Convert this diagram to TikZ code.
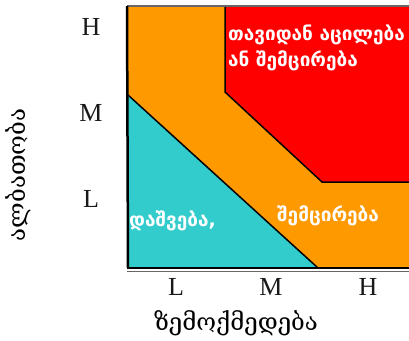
\documentclass[tikz,border=0pt]{standalone}
\usepackage{fontspec}
\setmainfont{Liberation Serif}
\newfontfamily\geo{DejaVu Sans}
\newfontfamily\geoserif{DejaVu Serif}
\definecolor{zoneorange}{HTML}{FF9900}
\definecolor{zonecyan}{HTML}{33CCCC}
\definecolor{zonered}{HTML}{FF0000}
\tikzset{
  ticklabel/.style={font=\fontsize{26}{26}\selectfont, text=black!90, inner sep=0pt},
  zonetext/.style={font=\geo\bfseries\fontsize{19}{26}\selectfont, text=white, inner sep=0pt, anchor=west, align=left},
  axislabel/.style={font=\geoserif\fontsize{24}{24}\selectfont, inner sep=0pt},
  edge/.style={draw=black, line width=1.5pt, line join=miter}
}
\begin{document}
\begin{tikzpicture}[x=1pt,y=-1pt]
\useasboundingbox (0,0) rectangle (409,340);
% zones
\fill[zoneorange] (128,6) rectangle (409,268);
\fill[zonecyan] (128,95) -- (318,268) -- (128,268) -- cycle;
\draw[edge] (128,95) -- (318,268);
\fill[zonered] (225,6) -- (225,92) -- (322,182) -- (409,182) -- (409,6) -- cycle;
\draw[edge] (225,6) -- (225,92) -- (322,182) -- (409,182);
% frame
\draw[black!60, line width=1.5pt] (127,6) -- (409,6);
\draw[black, line width=2.5pt] (127,6) -- (128,268);
\draw[black, line width=2pt] (127,268) -- (409,268);
\draw[black!60, line width=0.6pt] (127,271) -- (409,271);
% tick labels
\node[ticklabel] (yH) at (91,27) {H};
\node[ticklabel] (yM) at (91,113) {M};
\node[ticklabel] (yL) at (91,199) {L};
\node[ticklabel] (xL) at (176,287) {L};
\node[ticklabel] (xM) at (271,287) {M};
\node[ticklabel] (xH) at (368,287) {H};
% axis labels
\node[axislabel] (xlab) at (236,323) {ზემოქმედება};
\node[axislabel, rotate=90] (ylab) at (18,175) {ალბათობა};
% zone texts
\node[zonetext] (avoid) at (228,48) {თავიდან აცილება\\ან შემცირება};
\node[zonetext] (accept) at (129,221) {დაშვება,};
\node[zonetext] (reduce) at (277,216) {შემცირება};
\end{tikzpicture}
\end{document}
